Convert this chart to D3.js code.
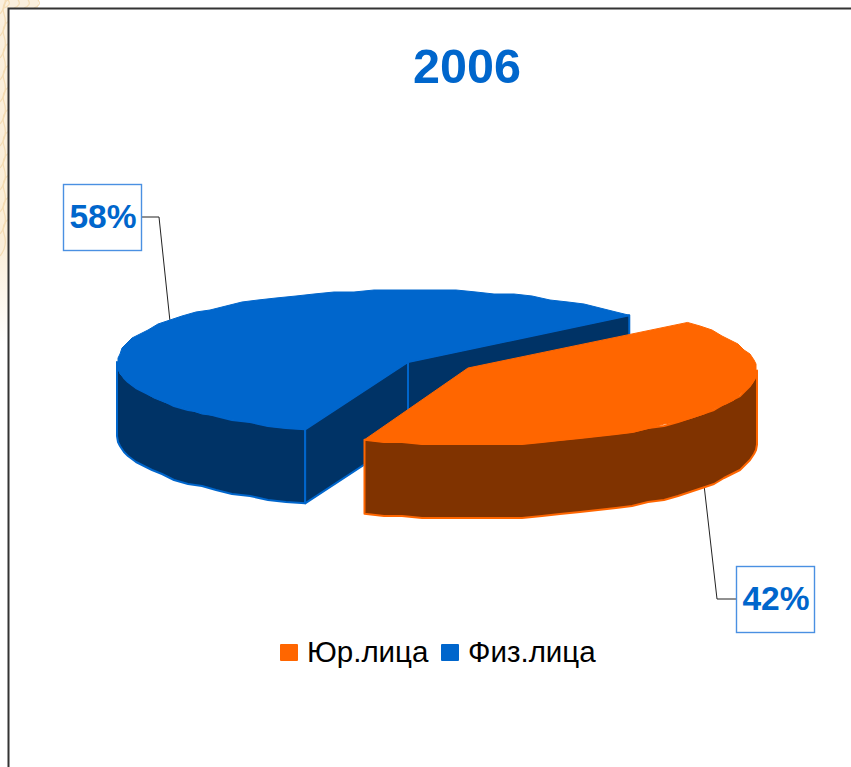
<!DOCTYPE html>
<html>
<head>
<meta charset="utf-8">
<script src="https://cdn.jsdelivr.net/npm/d3@7"></script>
<style>
    html, body { margin: 0; padding: 0; background: #fff; }
    svg { display: block; }
    text { font-family: "Liberation Sans", Arial, sans-serif; }
</style>
</head>
<body>
<svg id="chart" width="851" height="767"></svg>
<script>
    const title = '2006';
    const categories = ['Юр.лица', 'Физ.лица'];
    const values = [42, 58];
    const topColors = ['#ff6600', '#0066cc'];
    const sideColors = ['#803300', '#003366'];

    const width = 851;
    const height = 767;
    const depth = 74;
    const startDeg = 49.5;

    // each slice has its own disc since the orange one is pulled out of the pie
    const slicePos = [
        { cx: 467, cy: 370.5, rx: 290, ry: 74, apexX: 468, apexY: 368 },
        { cx: 408, cy: 362, rx: 291, ry: 72, apexX: 408, apexY: 362 }
    ];
    const labelPos = [
        { x: 736, y: 566, elbowX: 717, side: 'left' },
        { x: 63, y: 184, elbowX: 159, side: 'right' }
    ];
    const boxW = 78;
    const boxH = 66;

    const svg = d3.select('#chart');

    // Decorated paper that shows outside the frame
    const defs = svg.append('defs');
    const fade = defs.append('linearGradient')
        .attr('id', 'paperFade')
        .attr('x1', 0).attr('y1', 0).attr('x2', 0).attr('y2', 1);
    fade.append('stop').attr('offset', '0%').attr('stop-color', '#fbf0de').attr('stop-opacity', 1);
    fade.append('stop').attr('offset', '70%').attr('stop-color', '#fbeed8').attr('stop-opacity', 1);
    fade.append('stop').attr('offset', '100%').attr('stop-color', '#fbeed8').attr('stop-opacity', 0);

    svg.append('rect').attr('x', 0).attr('y', 0).attr('width', 8).attr('height', 345)
        .attr('fill', 'url(#paperFade)');
    svg.append('rect').attr('x', 0).attr('y', 0).attr('width', 38).attr('height', 8)
        .attr('fill', '#fbf0de');
    // faint scroll work on the paper
    svg.append('g')
        .selectAll('path')
        .data(d3.range(-2, 12))
        .join('path')
        .attr('d', k => `M0,${k * 22 + 14}Q8,${k * 22 + 4} 4,${k * 22 - 8}T14,${k * 22 - 26}`)
        .attr('fill', 'none')
        .attr('stroke', '#f4dcb4')
        .attr('stroke-width', 1.2);
    svg.append('g')
        .selectAll('path')
        .data(d3.range(0, 4))
        .join('path')
        .attr('d', k => `M${k * 10 + 4},8Q${k * 10 + 12},5 ${k * 10 + 8},0`)
        .attr('fill', 'none')
        .attr('stroke', '#f4dcb4')
        .attr('stroke-width', 1.2);

    // White page inside the frame, frame is open on the right
    svg.append('rect')
        .attr('x', 9).attr('y', 9)
        .attr('width', width - 9).attr('height', height - 9)
        .attr('fill', '#fff');
    svg.append('path')
        .attr('d', `M8.5,${height}V8.5H${width}`)
        .attr('fill', 'none')
        .attr('stroke', '#333')
        .attr('stroke-width', 2);

    svg.append('text')
        .attr('x', 467)
        .attr('y', 83)
        .attr('text-anchor', 'middle')
        .attr('font-size', 48.5)
        .attr('font-weight', 'bold')
        .attr('fill', '#0066cc')
        .text(title);

    const pie = d3.pie()
        .sort(null)
        .startAngle(startDeg * Math.PI / 180)
        .endAngle((startDeg + 360) * Math.PI / 180);
    const slices = pie(values);

    const unitX = d3.scaleLinear().domain([-1, 1]);
    const unitY = d3.scaleLinear().domain([-1, 1]);

    // Project a pie angle on to the tilted disc of slice i
    function project(i, angle, drop) {
        const p = slicePos[i];
        unitX.range([p.cx - p.rx, p.cx + p.rx]);
        unitY.range([p.cy + p.ry, p.cy - p.ry]);
        return [unitX(Math.sin(angle)), unitY(Math.cos(angle)) + (drop || 0)];
    }

    // The source arcs are coarse, snapping them to a grid gives the same bumpy edge
    function arcPoints(i, a0, a1, drop) {
        const n = Math.max(2, Math.round((a1 - a0) / (4 * Math.PI / 180)));
        return d3.range(n + 1).map(k => {
            const pt = project(i, a0 + (a1 - a0) * k / n, drop);
            if (k === 0 || k === n) return pt;
            return [Math.round(pt[0] / 2) * 2, Math.round(pt[1] / 2) * 2];
        });
    }

    const line = d3.line();
    const closed = pts => line(pts) + 'Z';

    // Leader lines go under the pie
    const leaders = svg.append('g');
    const pieG = svg.append('g');

    // Blue first, the pulled out orange slice lies over it
    [1, 0].forEach(i => {
        const s = slices[i];
        const g = pieG.append('g');
        const apex = [slicePos[i].apexX, slicePos[i].apexY];
        const apexLow = [apex[0], apex[1] + depth];

        const wallStart = Math.max(s.startAngle, Math.PI / 2);
        const wallEnd = Math.min(s.endAngle, Math.PI * 3 / 2);
        const wall = arcPoints(i, wallStart, wallEnd, 0)
            .concat(arcPoints(i, wallStart, wallEnd, depth).reverse());

        const sideFaces = [closed(wall)];
        if (i === 1) {
            // both cut faces of the big slice look towards the viewer
            [s.startAngle, s.endAngle].forEach(a => {
                const edge = project(i, a, 0);
                const edgeLow = project(i, a, depth);
                sideFaces.push(closed([apex, edge, edgeLow, apexLow]));
            });
        }
        g.selectAll('path.side')
            .data(sideFaces)
            .join('path')
            .attr('class', 'side')
            .attr('d', d => d)
            .attr('fill', sideColors[i])
            .attr('stroke', topColors[i])
            .attr('stroke-width', 2)
            .attr('stroke-linejoin', 'round');

        g.append('path')
            .attr('d', closed([apex].concat(arcPoints(i, s.startAngle, s.endAngle, 0))))
            .attr('fill', topColors[i])
            .attr('stroke', topColors[i])
            .attr('stroke-width', 1)
            .attr('stroke-linejoin', 'round');
    });

    // Data labels in boxes, leader starts at the middle of the slice
    slices.forEach((s, i) => {
        const lab = labelPos[i];
        const mid = (s.startAngle + s.endAngle) / 2;
        const frontHalf = Math.cos(mid) < 0;
        const anchor = project(i, mid, frontHalf ? depth : 0);
        const boxEdge = lab.side === 'left' ? lab.x : lab.x + boxW;
        const midY = lab.y + boxH / 2;

        leaders.append('path')
            .attr('d', line([anchor, [lab.elbowX, midY], [boxEdge, midY]]))
            .attr('fill', 'none')
            .attr('stroke', '#222')
            .attr('stroke-width', 1);

        svg.append('rect')
            .attr('x', lab.x + 0.5)
            .attr('y', lab.y + 0.5)
            .attr('width', boxW)
            .attr('height', boxH)
            .attr('fill', '#fff')
            .attr('stroke', '#4a90e2')
            .attr('stroke-width', 1.4);

        svg.append('text')
            .attr('x', lab.x + boxW / 2 + 1)
            .attr('y', midY + 11)
            .attr('text-anchor', 'middle')
            .attr('font-size', 33.5)
            .attr('font-weight', 'bold')
            .attr('fill', '#0066cc')
            .text(values[i] + '%');
    });

    // Legend
    const legendX = [280, 441];
    const legend = svg.append('g');
    categories.forEach((c, i) => {
        legend.append('rect')
            .attr('x', legendX[i])
            .attr('y', 644)
            .attr('width', 18)
            .attr('height', 17)
            .attr('rx', 1)
            .attr('fill', topColors[i]);
        legend.append('text')
            .attr('x', legendX[i] + 27)
            .attr('y', 662)
            .attr('font-size', 29.5)
            .attr('fill', '#000')
            .text(c);
    });
</script>
</body>
</html>
